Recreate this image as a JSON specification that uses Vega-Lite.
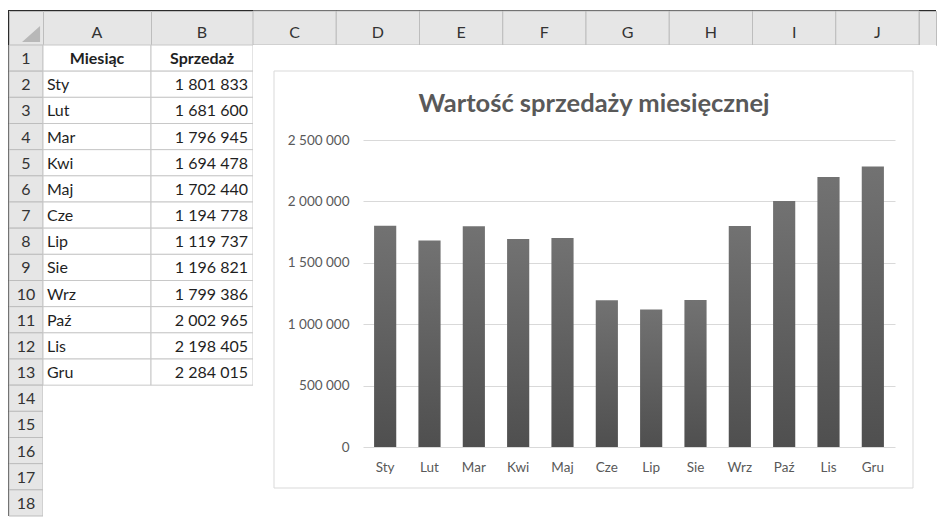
{
  "$schema": "https://vega.github.io/schema/vega-lite/v6.json",
  "background": "white",
  "padding": {"left": 8, "top": 10, "right": 0, "bottom": 0},
  "config": {
    "font": "Lato",
    "view": {"stroke": null},
    "locale": {"number": {"decimal": ",", "thousands": " ", "grouping": [3], "currency": ["", " zł"]}}
  },
  "datasets": {
    "sales": [
      {"row": 2, "month": "Sty", "sales": 1801833},
      {"row": 3, "month": "Lut", "sales": 1681600},
      {"row": 4, "month": "Mar", "sales": 1796945},
      {"row": 5, "month": "Kwi", "sales": 1694478},
      {"row": 6, "month": "Maj", "sales": 1702440},
      {"row": 7, "month": "Cze", "sales": 1194778},
      {"row": 8, "month": "Lip", "sales": 1119737},
      {"row": 9, "month": "Sie", "sales": 1196821},
      {"row": 10, "month": "Wrz", "sales": 1799386},
      {"row": 11, "month": "Paź", "sales": 2002965},
      {"row": 12, "month": "Lis", "sales": 2198405},
      {"row": 13, "month": "Gru", "sales": 2284015}
    ],
    "rows": [
      {"row": 1}, {"row": 2}, {"row": 3}, {"row": 4}, {"row": 5}, {"row": 6},
      {"row": 7}, {"row": 8}, {"row": 9}, {"row": 10}, {"row": 11}, {"row": 12},
      {"row": 13}, {"row": 14}, {"row": 15}, {"row": 16}, {"row": 17}, {"row": 18}
    ],
    "header": [{"row": 1, "A": "Miesiąc", "B": "Sprzedaż"}],
    "cols": [
      {"col": "C"}, {"col": "D"}, {"col": "E"}, {"col": "F"},
      {"col": "G"}, {"col": "H"}, {"col": "I"}, {"col": "J"}
    ],
    "blank": [{}]
  },
  "columns": 6,
  "spacing": 0,
  "align": "each",
  "bounds": "flush",
  "concat": [
    {"width": 1, "height": 1, "view": {"fill": "#2b2b2b"}, "data": {"name": "blank"}, "mark": {"type": "text", "text": "", "fontSize": 0}, "encoding": {}},
    {"width": 34, "height": 1, "view": {"fill": "#2b2b2b"}, "data": {"name": "blank"}, "mark": {"type": "text", "text": "", "fontSize": 0}, "encoding": {}},
    {"width": 108, "height": 1, "view": {"fill": "#2b2b2b"}, "data": {"name": "blank"}, "mark": {"type": "text", "text": "", "fontSize": 0}, "encoding": {}},
    {"width": 102, "height": 1, "view": {"fill": "#2b2b2b"}, "data": {"name": "blank"}, "mark": {"type": "text", "text": "", "fontSize": 0}, "encoding": {}},
    {"width": 666, "height": 1, "view": {"fill": "#2b2b2b"}, "data": {"name": "blank"}, "mark": {"type": "text", "text": "", "fontSize": 0}, "encoding": {}},
    {"width": 17, "height": 1, "view": {"fill": "#2b2b2b"}, "data": {"name": "blank"}, "mark": {"type": "text", "text": "", "fontSize": 0}, "encoding": {}},

    {"width": 1, "height": 34, "view": {"fill": "#2b2b2b"}, "data": {"name": "blank"}, "mark": {"type": "text", "text": "", "fontSize": 0}, "encoding": {}},
    {
      "width": 34, "height": 34,
      "view": {"fill": "#e6e6e6", "stroke": "#bdbdbd"},
      "data": {"name": "blank"},
      "mark": {"type": "point", "shape": "M 1.56 -0.22 L 1.56 1.56 L -0.44 1.56 Z", "size": 324, "filled": true, "color": "#b8b8b8", "opacity": 1, "strokeWidth": 0},
      "encoding": {}
    },
    {
      "width": 108, "height": 34,
      "view": {"fill": "#e6e6e6", "stroke": "#bdbdbd"},
      "data": {"values": [{"c": "A"}]},
      "mark": {"type": "text", "fontSize": 16, "color": "#333333", "baseline": "middle", "dy": 5},
      "encoding": {"text": {"field": "c"}}
    },
    {
      "width": 102, "height": 34,
      "view": {"fill": "#e6e6e6", "stroke": "#bdbdbd"},
      "data": {"values": [{"c": "B"}]},
      "mark": {"type": "text", "fontSize": 16, "color": "#333333", "baseline": "middle", "dy": 5},
      "encoding": {"text": {"field": "c"}}
    },
    {
      "width": 666, "height": 34,
      "view": {"fill": "#e6e6e6", "stroke": "#bdbdbd"},
      "data": {"name": "cols"},
      "layer": [
        {
          "mark": {"type": "rect", "fill": "#e6e6e6", "stroke": "#bdbdbd", "strokeWidth": 1},
          "encoding": {
            "x": {"field": "col", "type": "nominal", "sort": null, "scale": {"type": "band", "paddingInner": 0, "paddingOuter": 0}, "axis": null}
          }
        },
        {
          "mark": {"type": "text", "fontSize": 16, "color": "#333333", "baseline": "middle", "dy": 5},
          "encoding": {
            "x": {"field": "col", "type": "nominal", "sort": null, "bandPosition": 0.5, "scale": {"type": "band", "paddingInner": 0, "paddingOuter": 0}, "axis": null},
            "text": {"field": "col"}
          }
        }
      ]
    },
    {
      "width": 17, "height": 34,
      "view": {"fill": "#e6e6e6", "stroke": "#bdbdbd"},
      "data": {"name": "blank"},
      "mark": {"type": "text", "text": "", "fontSize": 0},
      "encoding": {}
    },

    {"width": 1, "height": 471, "view": {"fill": "#2b2b2b"}, "data": {"name": "blank"}, "mark": {"type": "text", "text": "", "fontSize": 0}, "encoding": {}},
    {
      "width": 34, "height": 471,
      "view": {"fill": "#e6e6e6"},
      "data": {"name": "rows"},
      "layer": [
        {
          "mark": {"type": "rect", "fill": "#e6e6e6", "stroke": "#bdbdbd", "strokeWidth": 1},
          "encoding": {
            "y": {"field": "row", "type": "ordinal", "scale": {"type": "band", "domain": [1,2,3,4,5,6,7,8,9,10,11,12,13,14,15,16,17,18], "paddingInner": 0, "paddingOuter": 0}, "axis": null}
          }
        },
        {
          "mark": {"type": "text", "fontSize": 16, "color": "#333333", "baseline": "middle", "dy": 1},
          "encoding": {
            "y": {"field": "row", "type": "ordinal", "bandPosition": 0.5, "scale": {"type": "band", "domain": [1,2,3,4,5,6,7,8,9,10,11,12,13,14,15,16,17,18], "paddingInner": 0, "paddingOuter": 0}, "axis": null},
            "text": {"field": "row"}
          }
        }
      ]
    },
    {
      "width": 108, "height": 471,
      "view": {"fill": "white"},
      "layer": [
        {
          "data": {"name": "rows"},
          "transform": [{"filter": "datum.row <= 13"}],
          "mark": {"type": "rect", "fill": "white", "stroke": "#c8c8c8", "strokeWidth": 1},
          "encoding": {
            "x": {"datum": "A", "type": "nominal", "scale": {"type": "band", "paddingInner": 0, "paddingOuter": 0}, "axis": null},
            "y": {"field": "row", "type": "ordinal", "scale": {"type": "band", "domain": [1,2,3,4,5,6,7,8,9,10,11,12,13,14,15,16,17,18], "paddingInner": 0, "paddingOuter": 0}, "axis": null}
          }
        },
        {
          "data": {"name": "header"},
          "mark": {"type": "text", "fontSize": 16, "fontWeight": "bold", "color": "#1f1f1f", "baseline": "middle", "align": "center", "dy": 1},
          "encoding": {
            "x": {"datum": "A", "type": "nominal", "bandPosition": 0.5, "scale": {"type": "band", "paddingInner": 0, "paddingOuter": 0}, "axis": null},
            "y": {"field": "row", "type": "ordinal", "bandPosition": 0.5, "scale": {"type": "band", "domain": [1,2,3,4,5,6,7,8,9,10,11,12,13,14,15,16,17,18], "paddingInner": 0, "paddingOuter": 0}, "axis": null},
            "text": {"field": "A"}
          }
        },
        {
          "data": {"name": "sales"},
          "mark": {"type": "text", "fontSize": 16, "color": "#1f1f1f", "baseline": "middle", "align": "left", "dx": 4, "dy": 1},
          "encoding": {
            "x": {"datum": "A", "type": "nominal", "bandPosition": 0, "scale": {"type": "band", "paddingInner": 0, "paddingOuter": 0}, "axis": null},
            "y": {"field": "row", "type": "ordinal", "bandPosition": 0.5, "scale": {"type": "band", "domain": [1,2,3,4,5,6,7,8,9,10,11,12,13,14,15,16,17,18], "paddingInner": 0, "paddingOuter": 0}, "axis": null},
            "text": {"field": "month"}
          }
        }
      ]
    },
    {
      "width": 102, "height": 471,
      "view": {"fill": "white"},
      "layer": [
        {
          "data": {"name": "rows"},
          "transform": [{"filter": "datum.row <= 13"}],
          "mark": {"type": "rect", "fill": "white", "stroke": "#c8c8c8", "strokeWidth": 1},
          "encoding": {
            "x": {"datum": "B", "type": "nominal", "scale": {"type": "band", "paddingInner": 0, "paddingOuter": 0}, "axis": null},
            "y": {"field": "row", "type": "ordinal", "scale": {"type": "band", "domain": [1,2,3,4,5,6,7,8,9,10,11,12,13,14,15,16,17,18], "paddingInner": 0, "paddingOuter": 0}, "axis": null}
          }
        },
        {
          "data": {"name": "header"},
          "mark": {"type": "text", "fontSize": 16, "fontWeight": "bold", "color": "#1f1f1f", "baseline": "middle", "align": "center", "dy": 1},
          "encoding": {
            "x": {"datum": "B", "type": "nominal", "bandPosition": 0.5, "scale": {"type": "band", "paddingInner": 0, "paddingOuter": 0}, "axis": null},
            "y": {"field": "row", "type": "ordinal", "bandPosition": 0.5, "scale": {"type": "band", "domain": [1,2,3,4,5,6,7,8,9,10,11,12,13,14,15,16,17,18], "paddingInner": 0, "paddingOuter": 0}, "axis": null},
            "text": {"field": "B"}
          }
        },
        {
          "data": {"name": "sales"},
          "mark": {"type": "text", "fontSize": 16, "color": "#1f1f1f", "baseline": "middle", "align": "right", "dx": -5, "dy": 1},
          "encoding": {
            "x": {"datum": "B", "type": "nominal", "bandPosition": 1, "scale": {"type": "band", "paddingInner": 0, "paddingOuter": 0}, "axis": null},
            "y": {"field": "row", "type": "ordinal", "bandPosition": 0.5, "scale": {"type": "band", "domain": [1,2,3,4,5,6,7,8,9,10,11,12,13,14,15,16,17,18], "paddingInner": 0, "paddingOuter": 0}, "axis": null},
            "text": {"field": "sales", "type": "quantitative", "format": ",d"}
          }
        }
      ]
    },
    {
      "width": 666, "height": 471,
      "view": {"fill": "white"},
      "title": {"text": "Wartość sprzedaży miesięcznej", "anchor": "middle", "frame": "group", "dx": 8, "offset": -92.5, "baseline": "alphabetic", "fontSize": 25.5, "fontWeight": "bold", "color": "#595959", "font": "Lato"},
      "resolve": {"scale": {"x": "independent", "y": "independent"}, "axis": {"x": "independent", "y": "independent"}},
      "layer": [
        {
          "data": {"name": "blank"},
          "mark": {"type": "rect", "fill": null, "fillOpacity": 0, "stroke": "#d9d9d9", "strokeWidth": 1},
          "encoding": {
            "x": {"datum": 0, "type": "quantitative", "scale": {"domain": [0, 1], "range": [21, 660]}, "axis": null},
            "x2": {"datum": 1},
            "y": {"datum": 0, "type": "quantitative", "scale": {"domain": [0, 1], "range": [443, 26]}, "axis": null},
            "y2": {"datum": 1}
          }
        },
        {
          "data": {"name": "sales"},
          "mark": {
            "type": "bar",
            "fill": {"gradient": "linear", "x1": 0, "y1": 0, "x2": 0, "y2": 1, "stops": [{"offset": 0, "color": "#727272"}, {"offset": 1, "color": "#4f4f4f"}]}
          },
          "encoding": {
            "x": {
              "field": "month", "type": "nominal", "sort": null,
              "scale": {"range": [110, 642], "paddingInner": 0.5, "paddingOuter": 0.25},
              "axis": {"orient": "bottom", "offset": -69, "ticks": false, "tickSize": 0, "domain": false, "labelPadding": 13, "labelAngle": 0, "labelFontSize": 13.5, "labelColor": "#595959", "labelFont": "Lato", "title": null, "grid": false}
            },
            "y": {
              "field": "sales", "type": "quantitative",
              "scale": {"domain": [0, 2500000], "range": [402, 95]},
              "axis": {"orient": "left", "offset": -96, "values": [0, 500000, 1000000, 1500000, 2000000, 2500000], "format": ",d", "ticks": false, "tickSize": 0, "domain": false, "labelPadding": 0, "labelFontSize": 13.5, "labelColor": "#595959", "labelFont": "Lato", "grid": true, "gridColor": "#d9d9d9", "gridWidth": 1, "title": null}
            }
          }
        }
      ]
    },
    {
      "width": 17, "height": 471,
      "view": {"fill": "white"},
      "data": {"name": "blank"},
      "mark": {"type": "text", "text": "", "fontSize": 0},
      "encoding": {}
    }
  ]
}
